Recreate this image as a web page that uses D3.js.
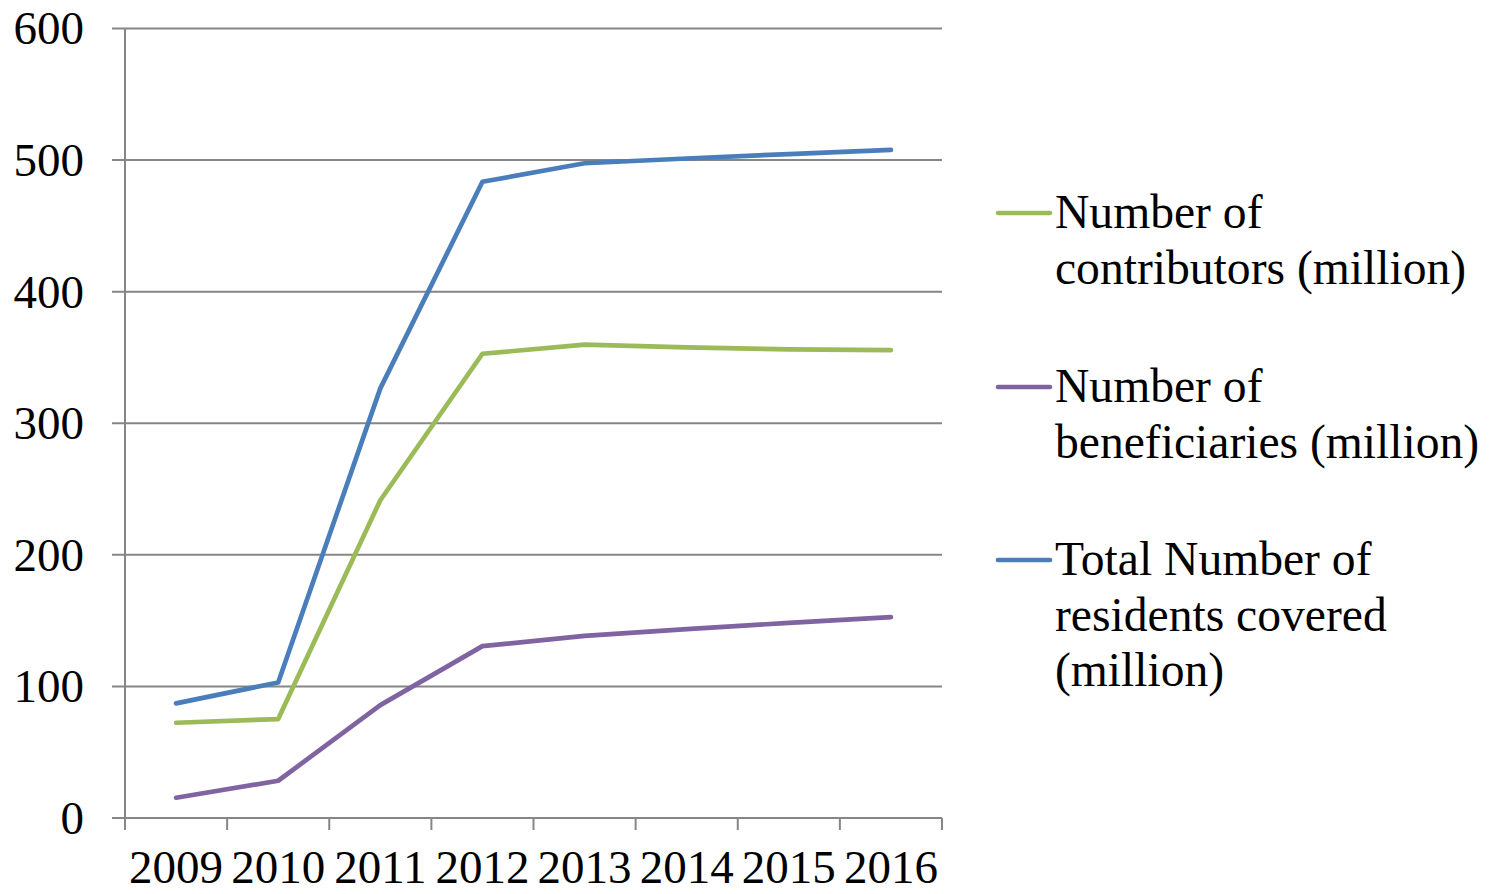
<!DOCTYPE html>
<html><head><meta charset="utf-8">
<script src="https://cdn.jsdelivr.net/npm/d3@7"></script>
<style>body{margin:0;background:#fff}svg{display:block}</style>
</head><body><svg id="c" width="1493" height="894"></svg>
<script>
const years = ["2009","2010","2011","2012","2013","2014","2015","2016"];
const contributors = [72.4, 75.2, 241.5, 352.8, 359.7, 357.6, 356.1, 355.6];
const beneficiaries = [15.4, 28.3, 85.8, 130.6, 138.4, 143.5, 148.3, 152.6];
const total = [87.1, 103, 326.5, 483.5, 497.6, 501.2, 504.6, 507.7];
const yTicks = [0, 100, 200, 300, 400, 500, 600];
const seriesNames = [["Number of","contributors (million)"],["Number of","beneficiaries (million)"],["Total Number of","residents covered","(million)"]];
const colors = ["#9BBB59", "#8064A2", "#4A7EBB"];

const FONT = "'Liberation Serif', 'Times New Roman', Times, 'DejaVu Serif', serif";
const svg = d3.select("#c").attr("font-family", FONT);
const L = 125, R = 942, T = 28.5, B = 818;
const x = d3.scaleBand().domain(years).range([L, R]);
const y = d3.scaleLinear().domain([0, 600]).range([B, T]);

svg.append("g").selectAll("line").data(yTicks).join("line")
  .attr("x1", L - 13).attr("x2", R).attr("y1", d => y(d)).attr("y2", d => y(d))
  .attr("stroke", "#868686").attr("stroke-width", 2);
svg.append("line").attr("x1", L).attr("x2", L).attr("y1", T).attr("y2", B + 12).attr("stroke", "#868686").attr("stroke-width", 2);
const xt = years.map(d => x(d)).concat([R]);
svg.append("g").selectAll("line").data(xt).join("line")
  .attr("x1", d => d).attr("x2", d => d).attr("y1", B).attr("y2", B + 12)
  .attr("stroke", "#868686").attr("stroke-width", 2);
svg.append("g").selectAll("text").data(yTicks).join("text")
  .attr("x", 84).attr("y", d => y(d)).attr("dy", "0.34em").attr("text-anchor", "end")
  .attr("font-size", 47).text(d => d);
svg.append("g").selectAll("text").data(years).join("text")
  .attr("x", d => x(d) + x.bandwidth() / 2).attr("y", 883).attr("text-anchor", "middle")
  .attr("font-size", 47).text(d => d);

const line = d3.line().x((d, i) => x(years[i]) + x.bandwidth() / 2).y(d => y(d));
[contributors, beneficiaries, total].forEach((s, k) => {
  svg.append("path").attr("d", line(s)).attr("fill", "none").attr("stroke", colors[k])
    .attr("stroke-width", 4.7).attr("stroke-linecap", "round").attr("stroke-linejoin", "round");
});
const legY = [213, 387, 560];
seriesNames.forEach((lines, k) => {
  const g = svg.append("g");
  g.append("line").attr("x1", 998).attr("x2", 1050).attr("y1", legY[k]).attr("y2", legY[k])
    .attr("stroke", colors[k]).attr("stroke-width", 4.7).attr("stroke-linecap", "round");
  lines.forEach((t, j) => {
    g.append("text").attr("x", 1055).attr("y", legY[k] + 15 + j * 55.5).attr("font-size", 47.6).text(t);
  });
});
</script></body></html>
